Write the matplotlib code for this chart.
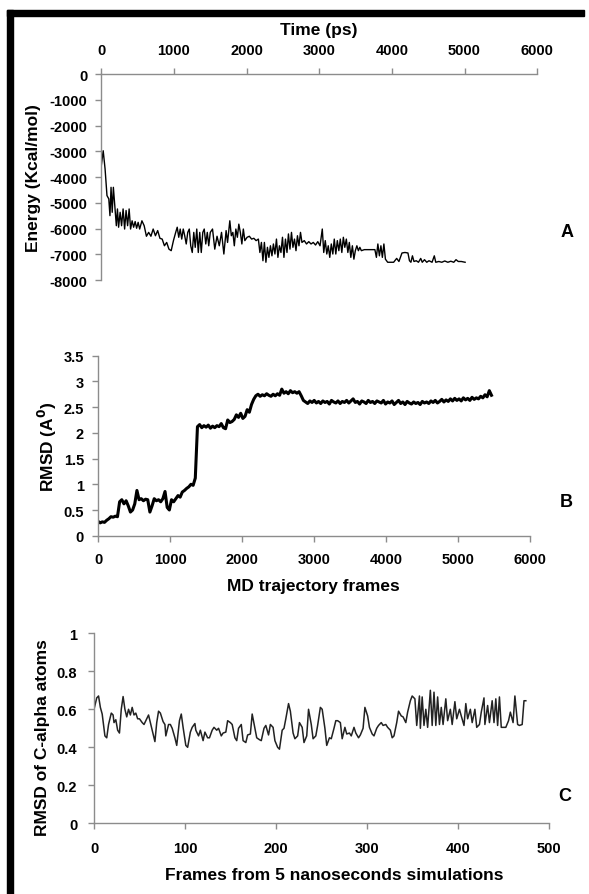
import matplotlib
matplotlib.use("Agg")
import matplotlib.pyplot as plt
from matplotlib.patches import Rectangle
import numpy as np

plt.rcParams["font.family"] = ["Liberation Sans", "DejaVu Sans"]
plt.rcParams["font.weight"] = "bold"
plt.rcParams["axes.unicode_minus"] = False

# ---------------- panel A: energy vs time ----------------
timePs = [0, 26, 52, 78, 103, 119, 134, 150, 166, 186, 207, 222, 238, 259, 279, 300,
          321, 341, 362, 383, 403, 424, 445, 466, 486, 507, 528, 559, 590, 621, 652, 683,
          714, 745, 776, 807, 838, 869, 900, 931, 962, 993, 1024, 1045, 1066, 1086, 1107,
          1128, 1148, 1169, 1190, 1211, 1231, 1252, 1273, 1293, 1314, 1335, 1355, 1376,
          1397, 1417, 1438, 1459, 1479, 1500, 1531, 1562, 1593, 1624, 1655, 1687, 1718,
          1738, 1769, 1790, 1811, 1831, 1852, 1873, 1893, 1914, 1935, 1955, 1976, 2007,
          2038, 2069, 2100, 2131, 2162, 2183, 2204, 2225, 2245, 2266, 2287, 2307, 2328,
          2349, 2369, 2390, 2411, 2431, 2452, 2473, 2494, 2514, 2535, 2556, 2576, 2597,
          2618, 2638, 2659, 2680, 2700, 2721, 2742, 2762, 2794, 2825, 2856, 2887, 2918,
          2949, 2980, 3011, 3042, 3062, 3083, 3104, 3124, 3145, 3166, 3187, 3207, 3228,
          3249, 3270, 3290, 3311, 3332, 3352, 3373, 3394, 3414, 3435, 3456, 3477, 3497,
          3518, 3539, 3559, 3580, 3621, 3673, 3725, 3766, 3787, 3807, 3828, 3849, 3869,
          3890, 3911, 3942, 3983, 4024, 4066, 4097, 4118, 4139, 4180, 4221, 4242, 4262,
          4283, 4304, 4335, 4366, 4397, 4418, 4449, 4480, 4511, 4553, 4584, 4604, 4646,
          4687, 4728, 4770, 4811, 4852, 4883, 4914, 4956, 5008]
energy = [-3560, -2980, -3690, -4720, -4850, -5500, -4400, -5370, -4400, -5110, -5890,
          -5240, -5950, -5370, -5890, -5240, -6020, -5300, -5890, -5240, -6020, -5700,
          -5950, -5730, -5990, -5760, -6020, -5700, -5890, -6300, -6150, -6300, -6020,
          -6280, -6080, -6380, -6410, -6670, -6540, -6800, -6860, -6470, -6150, -5950,
          -6340, -6020, -6410, -6020, -6280, -6600, -6150, -6020, -6670, -6930, -6150,
          -6730, -6020, -6930, -6150, -6930, -6150, -6020, -6600, -6150, -6670, -6150,
          -6020, -6800, -6300, -6670, -6150, -6990, -6080, -6540, -5700, -6280, -6150,
          -6670, -6020, -6340, -5830, -6150, -6600, -6020, -6470, -6340, -6300, -6410,
          -6380, -6470, -6410, -6930, -6540, -7250, -6540, -7310, -6730, -7120, -6670,
          -7060, -6600, -6990, -6410, -7120, -6670, -6930, -6340, -7120, -6410, -6930,
          -6210, -6800, -6150, -6730, -6410, -6860, -6280, -6670, -6150, -6540, -6470,
          -6600, -6510, -6600, -6540, -6640, -6510, -6670, -6020, -6930, -6470, -6990,
          -6670, -7120, -6600, -6990, -6410, -6990, -6470, -6860, -6410, -6930, -6340,
          -6730, -6410, -6930, -6540, -7120, -6670, -7190, -6860, -6670, -6860, -6730,
          -6860, -6820, -6820, -6820, -6820, -7120, -6600, -7060, -6670, -7120, -6600,
          -7190, -7310, -7310, -7310, -7160, -7280, -7120, -6950, -6930, -6950, -7250,
          -7310, -7060, -7280, -7250, -7310, -7160, -7310, -7210, -7310, -7250, -7310,
          -7060, -7310, -7280, -7310, -7260, -7310, -7270, -7310, -7210, -7280, -7280,
          -7310]

# ---------------- panel B: RMSD vs MD frames ----------------
frameStep = 30
rmsd = [0.28, 0.25, 0.27, 0.26, 0.30, 0.33, 0.37, 0.36, 0.38, 0.37,
        0.66, 0.70, 0.62, 0.68, 0.58, 0.46, 0.50, 0.62,
        0.88, 0.70, 0.72, 0.68, 0.71, 0.70,
        0.46, 0.58, 0.72, 0.68, 0.70, 0.66, 0.72,
        0.86, 0.55, 0.50, 0.70, 0.66, 0.72,
        0.78, 0.75, 0.85, 0.88, 0.92, 0.95, 1.00, 0.98, 1.12,
        2.12, 2.16, 2.10, 2.14, 2.11, 2.15, 2.09, 2.13, 2.10, 2.14,
        2.12, 2.18, 2.10, 2.08, 2.25, 2.20, 2.22, 2.26,
        2.35, 2.30, 2.38, 2.28, 2.32, 2.45, 2.40, 2.55,
        2.65, 2.72, 2.75, 2.71, 2.74, 2.72, 2.76, 2.73, 2.71, 2.75,
        2.72, 2.76, 2.73, 2.85, 2.77, 2.80, 2.76, 2.82, 2.78, 2.80, 2.77, 2.80,
        2.72, 2.63, 2.60, 2.57, 2.62, 2.59, 2.63, 2.58, 2.61, 2.57,
        2.62, 2.59, 2.61, 2.56, 2.63, 2.60, 2.58, 2.62, 2.57, 2.61, 2.59, 2.63,
        2.58, 2.62, 2.66, 2.59, 2.61, 2.56, 2.62, 2.60, 2.57, 2.63, 2.59, 2.61,
        2.57, 2.62, 2.60, 2.58, 2.63, 2.56, 2.60, 2.58, 2.62, 2.55, 2.59, 2.63,
        2.57, 2.60, 2.55, 2.61, 2.58, 2.56, 2.60, 2.57, 2.59, 2.55, 2.61, 2.58,
        2.60, 2.57, 2.62, 2.59, 2.63, 2.58, 2.61, 2.65, 2.60, 2.64, 2.61, 2.66,
        2.62, 2.67, 2.63, 2.66, 2.62, 2.68, 2.64, 2.67, 2.63, 2.69, 2.65, 2.68,
        2.66, 2.71, 2.68, 2.74, 2.70, 2.82, 2.73]
mdFrames = np.arange(len(rmsd)) * frameStep

# ---------------- panel C: C-alpha RMSD ----------------
cFrames = [0, 3, 5, 7, 9, 12, 14, 16, 19, 21, 22, 24, 26, 28, 30, 32, 34, 36, 38, 40,
           42, 44, 46, 48, 50, 53, 55, 58, 60, 63, 65, 67, 69, 71, 73, 76, 78, 79, 82,
           84, 86, 89, 91, 94, 96, 98, 101, 103, 106, 108, 111, 112, 115, 117, 120, 122,
           125, 127, 130, 132, 135, 137, 140, 142, 145, 147, 150, 152, 155, 157, 159,
           162, 164, 167, 169, 172, 174, 177, 179, 182, 184, 187, 189, 192, 194, 197,
           199, 202, 204, 207, 209, 211, 214, 216, 219, 221, 224, 226, 229, 231, 234,
           236, 239, 241, 244, 246, 249, 251, 254, 256, 259, 261, 264, 266, 268, 271,
           273, 276, 278, 281, 283, 286, 288, 291, 293, 296, 298, 301, 303, 306, 308,
           311, 313, 316, 318, 321, 323, 326, 328, 330, 333, 335, 338, 340, 343, 345,
           348, 350, 353, 355, 358, 359, 361, 363, 365, 367, 370, 372, 374, 376, 378,
           380, 382, 384, 387, 389, 392, 394, 397, 399, 402, 404, 407, 409, 411, 414,
           416, 419, 421, 424, 426, 429, 430, 433, 435, 438, 440, 442, 444, 446, 448,
           451, 453, 456, 458, 461, 463, 466, 468, 471, 473, 475]
cRmsd = [0.60, 0.66, 0.67, 0.61, 0.575, 0.46, 0.45, 0.52, 0.58, 0.57, 0.53, 0.545,
         0.49, 0.475, 0.60, 0.667, 0.60, 0.56, 0.60, 0.57, 0.61, 0.57, 0.58, 0.55, 0.55,
         0.53, 0.52, 0.55, 0.57, 0.51, 0.47, 0.43, 0.53, 0.59, 0.58, 0.535, 0.52, 0.46,
         0.52, 0.52, 0.50, 0.45, 0.41, 0.54, 0.575, 0.505, 0.41, 0.40, 0.48, 0.505,
         0.525, 0.49, 0.46, 0.49, 0.435, 0.48, 0.45, 0.45, 0.49, 0.505, 0.49, 0.50,
         0.46, 0.475, 0.48, 0.54, 0.53, 0.52, 0.45, 0.435, 0.50, 0.52, 0.435, 0.425,
         0.465, 0.47, 0.575, 0.50, 0.45, 0.44, 0.435, 0.50, 0.515, 0.465, 0.52, 0.505,
         0.435, 0.40, 0.39, 0.49, 0.50, 0.55, 0.63, 0.59, 0.475, 0.445, 0.46, 0.53,
         0.505, 0.425, 0.46, 0.60, 0.52, 0.445, 0.46, 0.515, 0.61, 0.60, 0.50, 0.41,
         0.45, 0.445, 0.50, 0.54, 0.54, 0.53, 0.445, 0.505, 0.47, 0.475, 0.46, 0.505,
         0.475, 0.45, 0.465, 0.50, 0.61, 0.565, 0.505, 0.47, 0.46, 0.50, 0.515, 0.53,
         0.515, 0.52, 0.505, 0.49, 0.45, 0.46, 0.53, 0.59, 0.565, 0.56, 0.53, 0.585,
         0.645, 0.67, 0.655, 0.515, 0.67, 0.50, 0.665, 0.515, 0.60, 0.505, 0.70, 0.515,
         0.69, 0.515, 0.665, 0.52, 0.61, 0.52, 0.655, 0.54, 0.60, 0.52, 0.64, 0.55,
         0.60, 0.565, 0.515, 0.63, 0.55, 0.60, 0.53, 0.60, 0.505, 0.52, 0.585, 0.66,
         0.52, 0.62, 0.53, 0.645, 0.53, 0.655, 0.515, 0.665, 0.505, 0.505, 0.505, 0.54,
         0.585, 0.53, 0.67, 0.52, 0.515, 0.52, 0.645, 0.645]

spineGray = "#8c8c8c"
tickFont = 10.5
labelFont = 12.5


def style_axes(ax, top=False):
    for side in ["right", "bottom", "top", "left"]:
        ax.spines[side].set_visible(False)
    ax.spines["left"].set_visible(True)
    ax.spines["top" if top else "bottom"].set_visible(True)
    for side in ["left", "top", "bottom"]:
        ax.spines[side].set_color(spineGray)
        ax.spines[side].set_linewidth(1.0)
    ax.tick_params(direction="out", length=4, width=1, color=spineGray,
                   labelsize=tickFont, pad=6)
    for t in ax.get_xticklabels() + ax.get_yticklabels():
        t.set_fontweight("bold")


fig = plt.figure(figsize=(5.89, 8.95), dpi=100)

# Panel A
axA = fig.add_axes([0.172, 0.686, 0.740, 0.2302])
axA.plot(timePs, energy, color="black", linewidth=1.0)
axA.set_xlim(0, 6000)
axA.set_ylim(-8000, 0)
axA.set_xticks(range(0, 7000, 1000))
axA.set_yticks(range(-8000, 1000, 1000))
axA.xaxis.tick_top()
style_axes(axA, top=True)
axA.tick_params(axis="x", pad=8)

# Panel B
axB = fig.add_axes([0.1664, 0.4003, 0.7341, 0.2012])
axB.plot(mdFrames, rmsd, color="black", linewidth=2.2)
axB.set_xlim(0, 6000)
axB.set_ylim(0, 3.5)
axB.set_xticks(range(0, 7000, 1000))
axB.set_yticks([0, 0.5, 1, 1.5, 2, 2.5, 3, 3.5])
axB.set_yticklabels(["0", "0.5", "1", "1.5", "2", "2.5", "3", "3.5"])
style_axes(axB)
axB.tick_params(axis="x", pad=8)

# Panel C
axC = fig.add_axes([0.1596, 0.0790, 0.7717, 0.2123])
axC.plot(cFrames, cRmsd, color="#222222", linewidth=1.1)
axC.set_xlim(0, 500)
axC.set_ylim(0, 1)
axC.set_xticks(range(0, 600, 100))
axC.set_yticks([0, 0.2, 0.4, 0.6, 0.8, 1])
axC.set_yticklabels(["0", "0.2", "0.4", "0.6", "0.8", "1"])
style_axes(axC)
axC.tick_params(axis="x", pad=9)
axC.tick_params(axis="y", pad=8)

# labels
fig.text(0.5416, 0.9654, "Time (ps)", ha="center", va="center", fontsize=labelFont, fontweight="bold")
fig.text(0.0577, 0.801, "Energy (Kcal/mol)", ha="center", va="center", rotation=90,
         fontsize=labelFont, fontweight="bold")
fig.text(0.9626, 0.7397, "A", ha="center", va="center", fontsize=13, fontweight="bold")

fig.text(0.0798, 0.5006, "RMSD (A$^{\\mathbf{0}}$)", ha="center", va="center", rotation=90,
         fontsize=labelFont, fontweight="bold")
fig.text(0.5326, 0.3445, "MD trajectory frames", ha="center", va="center",
         fontsize=labelFont, fontweight="bold")
fig.text(0.961, 0.438, "B", ha="center", va="center", fontsize=13, fontweight="bold")

fig.text(0.073, 0.1754, "RMSD of C-alpha atoms", ha="center", va="center", rotation=90,
         fontsize=labelFont, fontweight="bold")
fig.text(0.567, 0.0223, "Frames from 5 nanoseconds simulations", ha="center", va="center",
         fontsize=labelFont, fontweight="bold")
fig.text(0.959, 0.1098, "C", ha="center", va="center", fontsize=13, fontweight="bold")

# black frame on top and left
fig.add_artist(Rectangle((7 / 589, 1 - 17 / 895), 577 / 589, 6 / 895,
                         transform=fig.transFigure, color="black", zorder=10))
fig.add_artist(Rectangle((7 / 589, 0), 6 / 589, 1 - 11 / 895,
                         transform=fig.transFigure, color="black", zorder=10))

fig.savefig("out.png", dpi=100)
